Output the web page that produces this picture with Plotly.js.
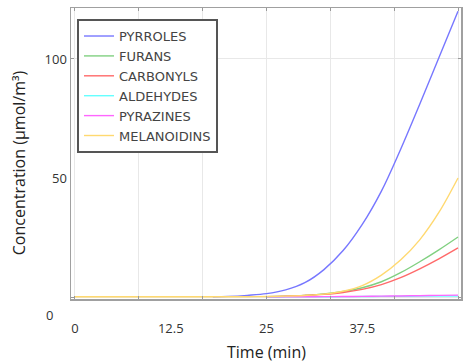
<!DOCTYPE html>
<html>
<head>
<meta charset="utf-8">
<script src="https://cdn.plot.ly/plotly-3.0.1.min.js"></script>
<style>html,body{margin:0;padding:0;background:#fff;}#chart{width:464px;height:364px;}</style>
</head>
<body>
<div id="chart"></div>
<script>
// Time points (min)
const timeFull = [0, 5, 10, 15, 20, 22.5, 25, 27.5, 30, 32.5, 35, 37.5, 40, 42.5, 45, 47.5, 50];
const timeBlue = [18, 20, 22.5, 25, 27.5, 30, 32.5, 35, 37.5, 40, 42.5, 45, 47.5, 50];
const timeLate = [25, 27.5, 30, 32.5, 35, 37.5, 40, 42.5, 45, 47.5, 50];

// Concentrations (µmol/m³)
const pyrroles    = [0.1, 0.25, 0.7, 1.4, 3.0, 6.0, 11.5, 19.5, 30.5, 44.5, 62, 81, 100.5, 120];
const furans      = [0.1, 0.3, 0.7, 1.3, 2.3, 3.9, 6.4, 10.2, 14.8, 19.8, 25.2];
const carbonyls   = [0.1, 0.3, 0.6, 1.1, 1.9, 3.2, 5.2, 8.1, 11.8, 16, 20.6];
const aldehydes   = [0.0, 0.05, 0.08, 0.1, 0.15, 0.2, 0.25, 0.3, 0.35, 0.4, 0.45];
const pyrazines   = [0.05, 0.07, 0.1, 0.14, 0.2, 0.27, 0.35, 0.45, 0.55, 0.68, 0.8];
const melanoidins = [0.1, 0.1, 0.1, 0.1, 0.1, 0.12, 0.2, 0.35, 0.65, 1.2, 2.4, 4.8, 9.2, 15.5, 24, 35.5, 50];

const seriesNames = ['PYRROLES', 'FURANS', 'CARBONYLS', 'ALDEHYDES', 'PYRAZINES', 'MELANOIDINS'];

const xTickVals = [0, 12.5, 25, 37.5, 50];
const xTickText = ['0', '12.5', '25', '37.5', '50'];
const yTickVals = [50, 100];
const yTickText = ['50', '100'];
const yGridVals = [0, 100];

const colors = ['#7777ff', '#80d080', '#ff6a6a', '#66ffff', '#ff66ff', '#ffd970'];
const xs = [timeBlue, timeLate, timeLate, timeLate, timeLate, timeFull];
const ys = [pyrroles, furans, carbonyls, aldehydes, pyrazines, melanoidins];

const traces = seriesNames.map((n, i) => ({
  x: xs[i], y: ys[i], name: n, type: 'scatter', mode: 'lines',
  line: {color: colors[i], width: 1.4, shape: 'spline', smoothing: 1}
}));
traces.push({x: [], y: [], xaxis: 'x2', yaxis: 'y2', showlegend: false, hoverinfo: 'skip'});

const xRange = [-0.52, 50.39];
const yRange = [-0.84, 121.4];
const tickFont = {family: 'Open Sans, sans-serif', size: 13, color: '#333'};

const layout = {
  width: 464, height: 364,
  margin: {l: 71, r: 3, t: 8, b: 65},
  paper_bgcolor: '#fff', plot_bgcolor: '#fff',
  showlegend: true,
  legend: {
    x: 0.0154, y: 0.962, xanchor: 'left', yanchor: 'top',
    bgcolor: '#fff', bordercolor: '#555', borderwidth: 2,
    font: {family: 'DejaVu Sans, sans-serif', size: 13, color: '#444'},
    tracegroupgap: 0
  },
  xaxis: {
    range: xRange, tick0: 0, dtick: 50 / 6, showticklabels: false,
    showgrid: true, gridcolor: '#e8e8e8', gridwidth: 1,
    zeroline: false, showline: true, linecolor: '#a0a0a0', linewidth: 1.5,
    mirror: 'allticks', ticks: 'inside', ticklen: 3, tickcolor: '#999'
  },
  xaxis2: {
    overlaying: 'x', anchor: 'y', side: 'bottom', range: xRange,
    tickmode: 'array', tickvals: xTickVals, ticktext: xTickText,
    showgrid: false, zeroline: false, showline: false, ticks: '',
    tickfont: tickFont, ticklabelstandoff: 20
  },
  yaxis: {
    range: yRange, tickmode: 'array', tickvals: yTickVals, ticktext: yTickText,
    showgrid: false, zeroline: false, showline: true, linecolor: '#a0a0a0', linewidth: 1.5,
    mirror: true, ticks: '', tickfont: tickFont, ticklabelstandoff: 0
  },
  yaxis2: {
    overlaying: 'y', anchor: 'x', range: yRange, tickmode: 'array', tickvals: yGridVals,
    showticklabels: false, showgrid: true, gridcolor: '#e8e8e8', zeroline: false, showline: false,
    ticks: 'inside', ticklen: 3, tickcolor: '#999', mirror: 'allticks'
  },
  annotations: [
    {text: '0', xref: 'paper', yref: 'paper', x: -0.054, y: -0.055, showarrow: false,
     xanchor: 'center', yanchor: 'middle', font: tickFont},
    {text: 'Concentration (µmol/m³)', xref: 'paper', yref: 'paper', x: -0.133, y: 0.467,
     textangle: -90, showarrow: false, xanchor: 'center', yanchor: 'middle',
     font: {family: 'Open Sans, sans-serif', size: 16, color: '#222'}},
    {text: 'Time (min)', xref: 'paper', yref: 'paper', x: 0.5, y: -0.182, showarrow: false,
     xanchor: 'center', yanchor: 'middle',
     font: {family: 'Open Sans, sans-serif', size: 16, color: '#222'}}
  ]
};

Plotly.newPlot('chart', traces, layout, {displayModeBar: false, staticPlot: true});
</script>
</body>
</html>
